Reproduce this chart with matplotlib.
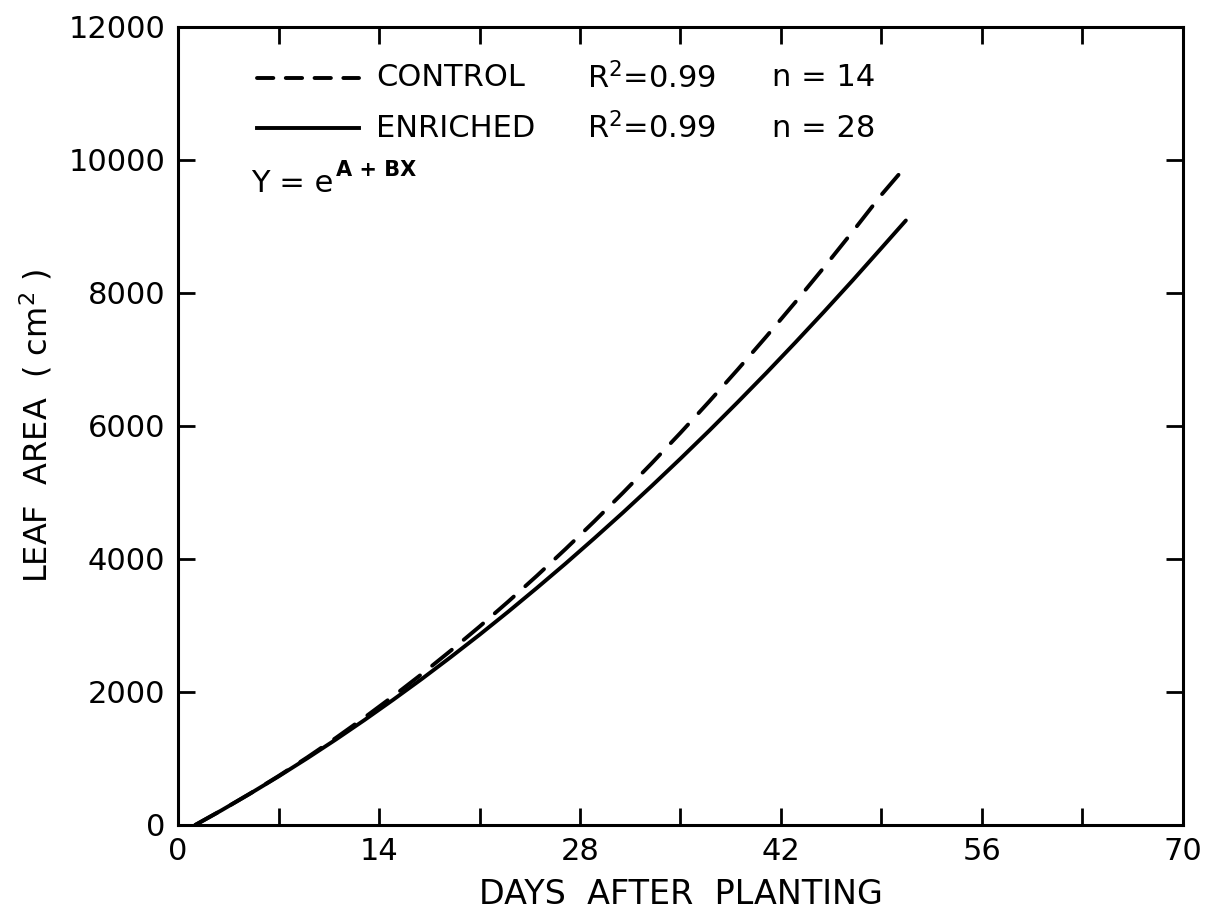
import matplotlib
matplotlib.use("Agg")
import matplotlib.pyplot as plt
from matplotlib.lines import Line2D

# Data (days after planting, leaf area cm^2)
enriched_days = [1.2, 3, 5, 7, 9, 11, 13, 15, 17, 19, 21, 23, 25, 27, 29, 31,
                 33, 35, 37, 39, 41, 43, 45, 47, 49, 50.7]
enriched = [0, 217, 469, 730, 1003, 1286, 1580, 1885, 2199, 2525, 2860, 3207,
            3565, 3932, 4311, 4699, 5099, 5509, 5929, 6361, 6802, 7255, 7718,
            8191, 8676, 9090]

control_days = [1.2, 3, 5, 7, 9, 11, 13, 15, 17, 19, 21, 23, 25, 27, 29, 31,
                33, 35, 37, 39, 41, 43, 45, 47, 49, 50.4]
control = [0, 217, 470, 736, 1016, 1310, 1618, 1939, 2273, 2622, 2983, 3359,
           3748, 4151, 4567, 4997, 5440, 5897, 6368, 6852, 7350, 7861, 8386,
           8925, 9477, 9830]

x_major = [0, 14, 28, 42, 56, 70]
x_minor = [0, 7, 14, 21, 28, 35, 42, 49, 56, 63, 70]
y_ticks = [0, 2000, 4000, 6000, 8000, 10000, 12000]

plt.rcParams['font.family'] = ['DejaVu Sans']

fig = plt.figure(figsize=(12.12, 9.15), dpi=100)
ax = fig.add_axes([0.1469, 0.0984, 0.976 - 0.1469, 0.9705 - 0.0984])

ax.plot(control_days, control, color='black', lw=2.8,
        linestyle=(0, (6.5, 4.0)), dash_capstyle='round')
ax.plot(enriched_days, enriched, color='black', lw=2.8, solid_capstyle='round')

ax.set_xlim(0, 70)
ax.set_ylim(0, 12000)
ax.set_xticks(x_minor)
ax.set_xticklabels([str(v) if v in x_major else '' for v in x_minor])
ax.set_yticks(y_ticks)
ax.set_yticklabels([str(v) for v in y_ticks])

ax.tick_params(direction='in', length=12, width=2, top=True, right=True,
               labelsize=22, pad=9)
for s in ax.spines.values():
    s.set_linewidth(2.2)

ax.set_xlabel('DAYS  AFTER  PLANTING', fontsize=24, labelpad=8)
ax.set_ylabel(r'LEAF  AREA  ( cm$^{\mathregular{2}}$ )', fontsize=23, labelpad=10)

# Legend block drawn as text
fs = 22
ax.add_line(Line2D([5.5, 12.6], [11235, 11235], color='black', lw=2.8,
                   linestyle=(0, (4.2, 3.2)), dash_capstyle='round'))
ax.add_line(Line2D([5.5, 12.6], [10480, 10480], color='black', lw=2.8))
ax.text(13.8, 11235, 'CONTROL', fontsize=fs, va='center')
ax.text(13.8, 10480, 'ENRICHED', fontsize=fs, va='center')
ax.text(28.5, 11235, r'R$^{\mathregular{2}}$=0.99', fontsize=fs, va='center')
ax.text(28.5, 10480, r'R$^{\mathregular{2}}$=0.99', fontsize=fs, va='center')
ax.text(41.4, 11235, 'n = 14', fontsize=fs, va='center')
ax.text(41.4, 10480, 'n = 28', fontsize=fs, va='center')
ax.text(5.1, 9650, 'Y = e', fontsize=fs, va='center')
ax.text(11.0, 9850, 'A + BX', fontsize=15, fontweight='bold', va='center')

fig.savefig('out.png', dpi=100, facecolor='white')
